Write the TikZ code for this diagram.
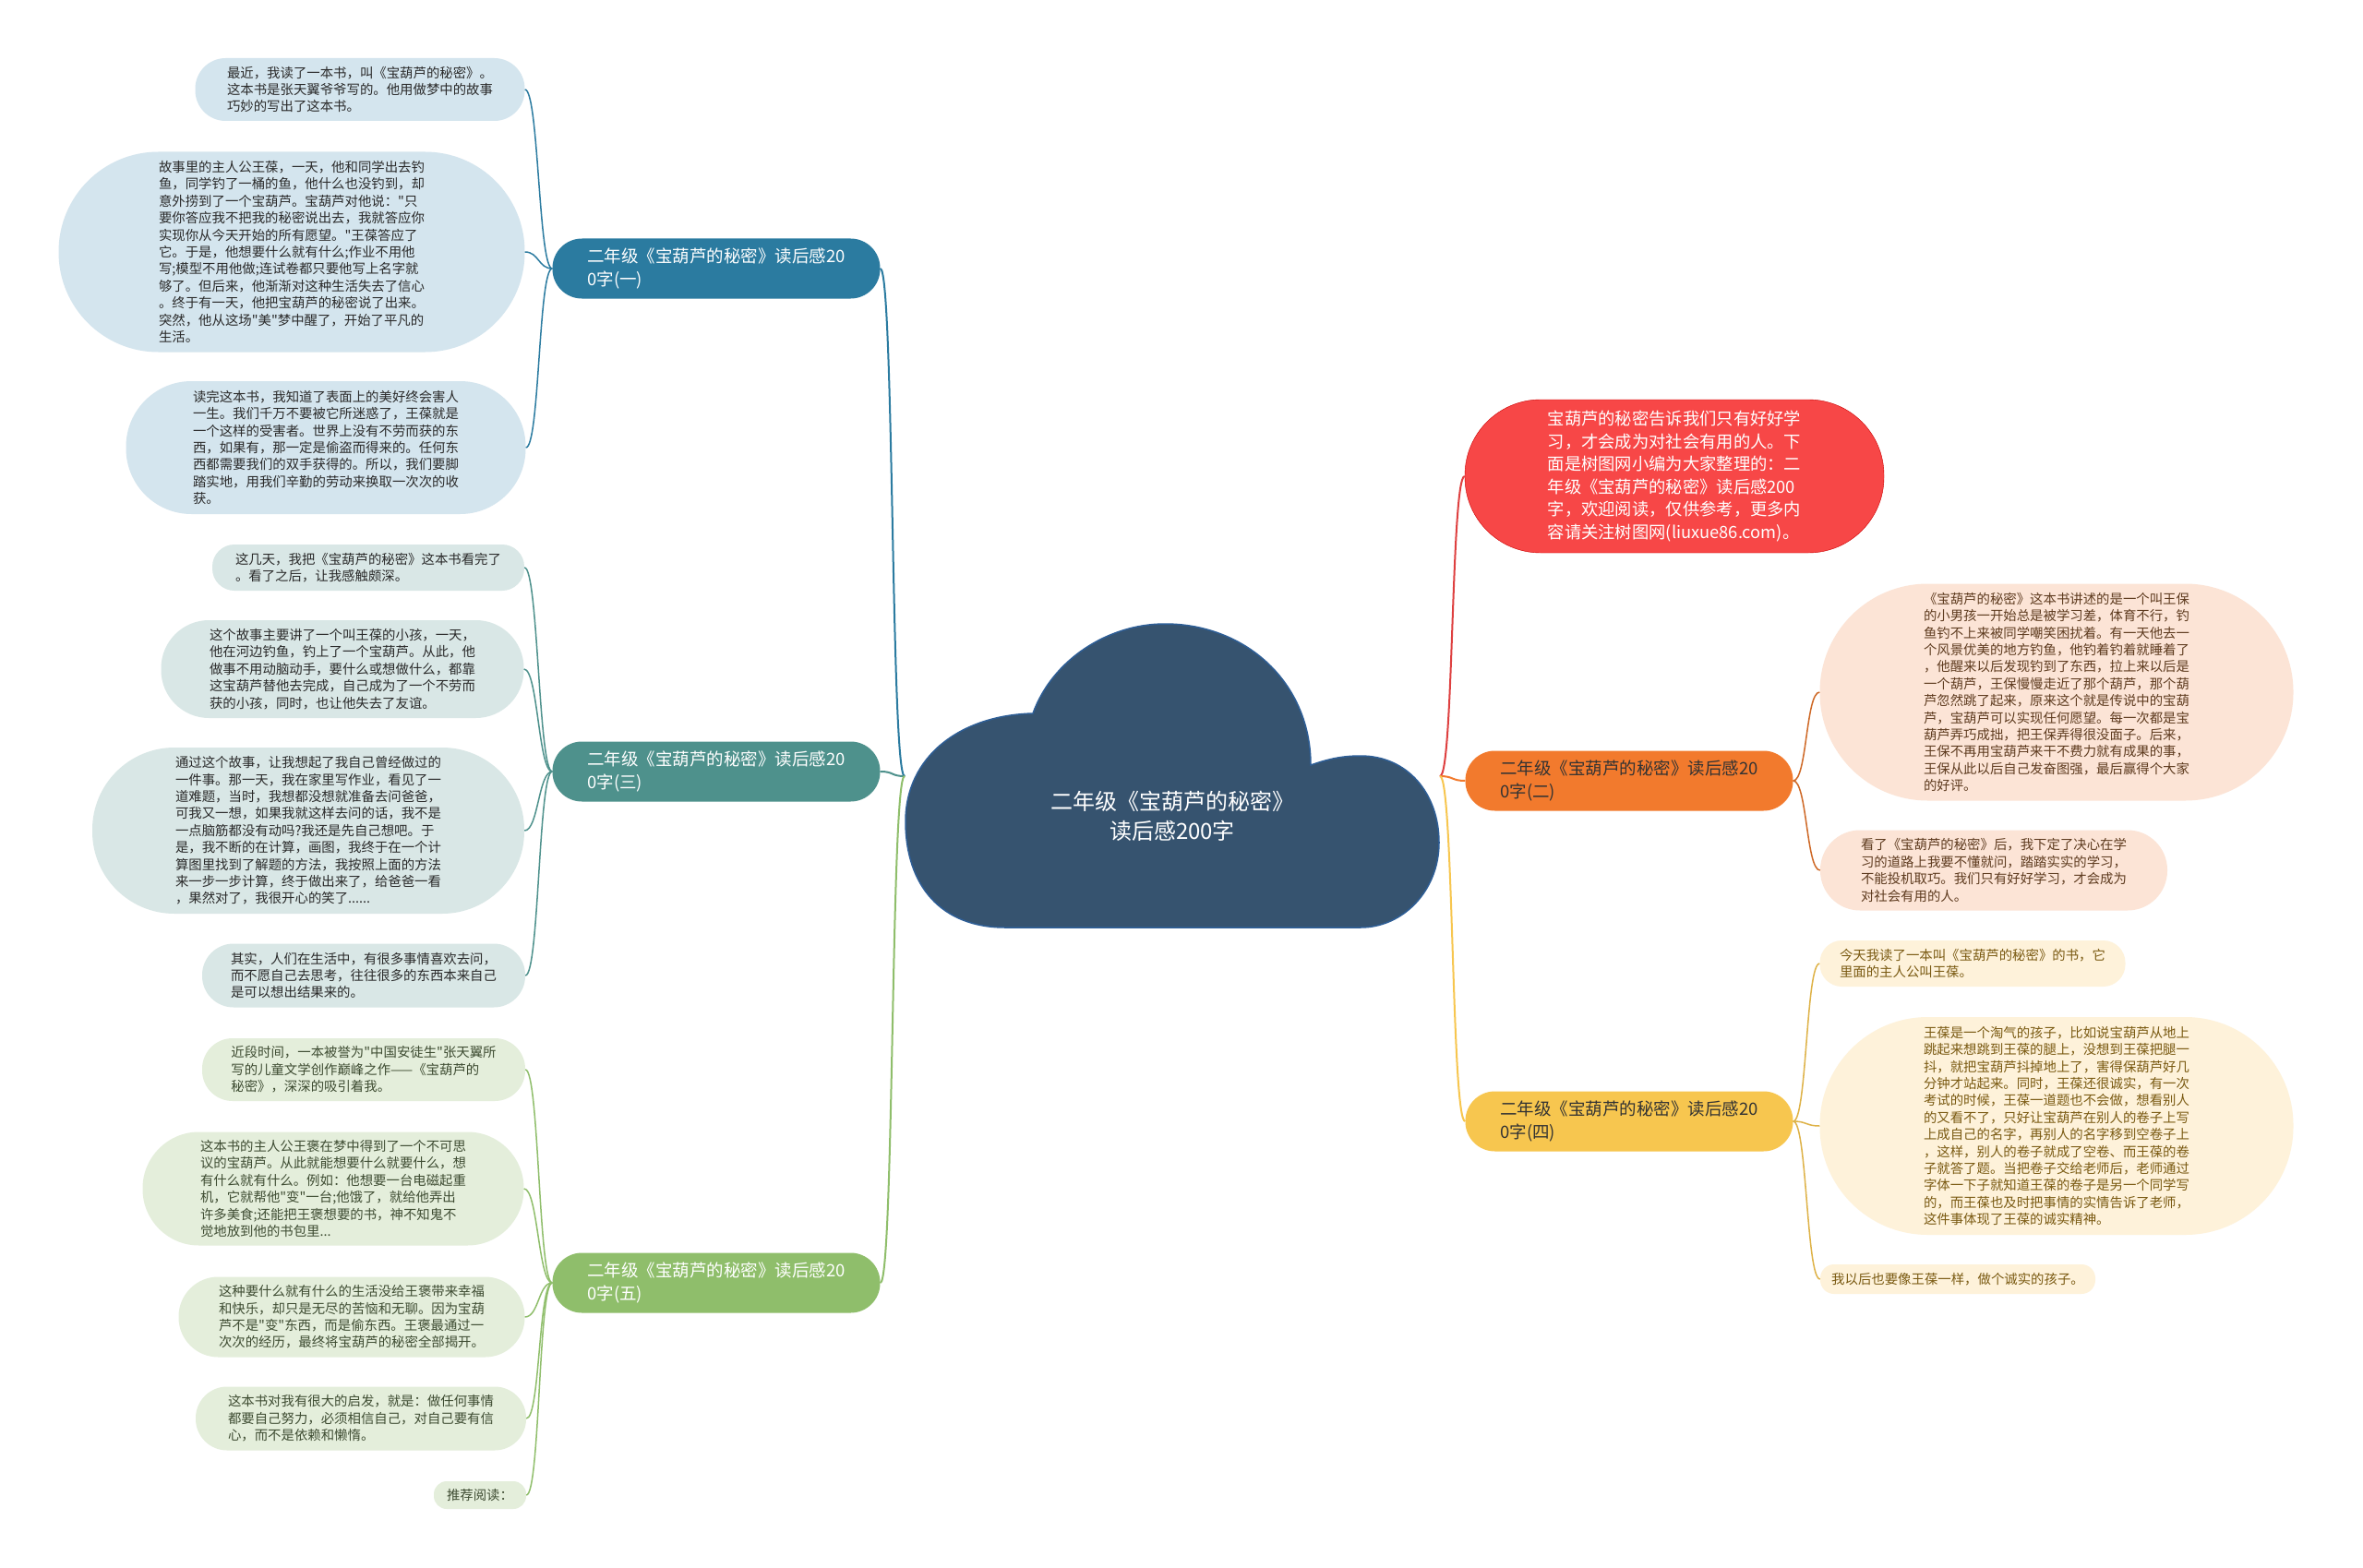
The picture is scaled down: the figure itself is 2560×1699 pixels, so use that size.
\documentclass[tikz,border=0pt]{standalone}
\usepackage{fontspec}
\setmainfont{Noto Sans CJK SC}[Ligatures=TeXOff]
\usetikzlibrary{positioning}

\definecolor{rootblue}{HTML}{36536F}
\definecolor{rootline}{HTML}{2E5E96}
\definecolor{blueA}{HTML}{2B7BA0}
\definecolor{blueL}{HTML}{D4E5EE}
\definecolor{tealA}{HTML}{4E918C}
\definecolor{tealL}{HTML}{D9E7E6}
\definecolor{greenA}{HTML}{8FBE6B}
\definecolor{greenL}{HTML}{E4EEDB}
\definecolor{greenT}{HTML}{3E4C32}
\definecolor{redA}{HTML}{F74747}
\definecolor{orangeA}{HTML}{F27A2D}
\definecolor{orangeL}{HTML}{FCE4D6}
\definecolor{orangeT}{HTML}{5E3B1F}
\definecolor{yellowA}{HTML}{F7C64F}
\definecolor{yellowL}{HTML}{FEF2DA}
\definecolor{yellowT}{HTML}{7A5A12}
\definecolor{leaftext}{HTML}{2A2A2A}

\tikzstyle{pill} = [rectangle, inner sep=0pt, align=left]
\tikzstyle{branch} = [pill, font=\fontsize{18.5pt}{25pt}\selectfont, minimum width=355, minimum height=65, rounded corners=32]
\tikzstyle{leaf} = [pill, font=\fontsize{14.4pt}{18.4pt}\selectfont]
\tikzstyle{link} = [line width=2pt]
\tikzstyle{twig} = [line width=1.5pt]

\begin{document}
\begin{tikzpicture}[x=1pt, y=-1pt]
		\fill [white] (0,0) rectangle (2560,1699);
		\useasboundingbox (0,0) rectangle (2560,1699);

		% Cloud
		\draw [fill=rootblue, draw=rootline, line width=1.5pt]
			(1089,1005) .. controls (1020,1005) and (981,960) .. (981,890)
			.. controls (981,820) and (1040,775) .. (1119,773)
			.. controls (1140,715) and (1200,676) .. (1262,676)
			.. controls (1350,676) and (1420,740) .. (1420,829)
			.. controls (1440,822) and (1455,819) .. (1474,819)
			.. controls (1525,819) and (1559,860) .. (1559,913)
			.. controls (1559,965) and (1520,1005) .. (1474,1005) -- cycle;
		\node (root) [align=center, text=white, font=\fontsize{24pt}{32pt}\selectfont] at (1270,884) {二年级《宝葫芦的秘密》\\读后感200字};
		\coordinate (rootW) at (980,841);
		\coordinate (rootE) at (1560,841);

		% Nodes
		\node (b1) [branch, fill=blueA, text=white] at (776,291) {二年级《宝葫芦的秘密》读后感20\\0字(一)};
		\node (b3) [branch, fill=tealA, text=white] at (776,836) {二年级《宝葫芦的秘密》读后感20\\0字(三)};
		\node (b5) [branch, fill=greenA, text=white] at (776,1390) {二年级《宝葫芦的秘密》读后感20\\0字(五)};
		\node (intro) [pill, fill=redA, draw=red!80!black, text=white, font=\fontsize{18.3pt}{24.6pt}\selectfont, minimum width=454, minimum height=166, rounded corners=82] at (1814,516) {宝葫芦的秘密告诉我们只有好好学\\习，才会成为对社会有用的人。下\\面是树图网小编为大家整理的：二\\年级《宝葫芦的秘密》读后感200\\字，欢迎阅读，仅供参考，更多内\\容请关注树图网(liuxue86.com)。};
		\node (b2) [branch, fill=orangeA, text=black!80] at (1765,846) {二年级《宝葫芦的秘密》读后感20\\0字(二)};
		\node (b4) [branch, fill=yellowA, text=black!80] at (1765,1215) {二年级《宝葫芦的秘密》读后感20\\0字(四)};

		\node (l1a) [leaf, fill=blueL, text=leaftext, minimum width=357, minimum height=68, rounded corners=33] at (390,97) {最近，我读了一本书，叫《宝葫芦的秘密》。\\这本书是张天翼爷爷写的。他用做梦中的故事\\巧妙的写出了这本书。};
		\node (l1b) [leaf, fill=blueL, text=leaftext, minimum width=505, minimum height=217, rounded corners=108] at (316,273) {故事里的主人公王葆，一天，他和同学出去钓\\鱼，同学钓了一桶的鱼，他什么也没钓到，却\\意外捞到了一个宝葫芦。宝葫芦对他说："只\\要你答应我不把我的秘密说出去，我就答应你\\实现你从今天开始的所有愿望。"王葆答应了\\它。于是，他想要什么就有什么;作业不用他\\写;模型不用他做;连试卷都只要他写上名字就\\够了。但后来，他渐渐对这种生活失去了信心\\。终于有一天，他把宝葫芦的秘密说了出来。\\突然，他从这场"美"梦中醒了，开始了平凡的\\生活。};
		\node (l1c) [leaf, fill=blueL, text=leaftext, minimum width=433, minimum height=144, rounded corners=71] at (353,485) {读完这本书，我知道了表面上的美好终会害人\\一生。我们千万不要被它所迷惑了，王葆就是\\一个这样的受害者。世界上没有不劳而获的东\\西，如果有，那一定是偷盗而得来的。任何东\\西都需要我们的双手获得的。所以，我们要脚\\踏实地，用我们辛勤的劳动来换取一次次的收\\获。};

		\node (l3a) [leaf, fill=tealL, text=leaftext, minimum width=338, minimum height=50, rounded corners=24] at (399,615) {这几天，我把《宝葫芦的秘密》这本书看完了\\。看了之后，让我感触颇深。};
		\node (l3b) [leaf, fill=tealL, text=leaftext, minimum width=393, minimum height=106, rounded corners=52] at (371,725) {这个故事主要讲了一个叫王葆的小孩，一天，\\他在河边钓鱼，钓上了一个宝葫芦。从此，他\\做事不用动脑动手，要什么或想做什么，都靠\\这宝葫芦替他去完成，自己成为了一个不劳而\\获的小孩，同时，也让他失去了友谊。};
		\node (l3c) [leaf, fill=tealL, text=leaftext, minimum width=468, minimum height=180, rounded corners=89] at (334,900) {通过这个故事，让我想起了我自己曾经做过的\\一件事。那一天，我在家里写作业，看见了一\\道难题，当时，我想都没想就准备去问爸爸，\\可我又一想，如果我就这样去问的话，我不是\\一点脑筋都没有动吗?我还是先自己想吧。于\\是，我不断的在计算，画图，我终于在一个计\\算图里找到了解题的方法，我按照上面的方法\\来一步一步计算，终于做出来了，给爸爸一看\\，果然对了，我很开心的笑了......};
		\node (l3d) [leaf, fill=tealL, text=leaftext, minimum width=350, minimum height=69, rounded corners=34] at (394,1057) {其实，人们在生活中，有很多事情喜欢去问，\\而不愿自己去思考，往往很多的东西本来自己\\是可以想出结果来的。};

		\node (l5a) [leaf, fill=greenL, text=greenT, minimum width=350, minimum height=68, rounded corners=33] at (394,1159) {近段时间，一本被誉为"中国安徒生"张天翼所\\写的儿童文学创作巅峰之作——《宝葫芦的\\秘密》，深深的吸引着我。};
		\node (l5b) [leaf, fill=greenL, text=greenT, minimum width=413, minimum height=123, rounded corners=61] at (361,1288) {这本书的主人公王褒在梦中得到了一个不可思\\议的宝葫芦。从此就能想要什么就要什么，想\\有什么就有什么。例如：他想要一台电磁起重\\机，它就帮他"变"一台;他饿了，就给他弄出\\许多美食;还能把王褒想要的书，神不知鬼不\\觉地放到他的书包里...};
		\node (l5c) [leaf, fill=greenL, text=greenT, minimum width=375, minimum height=87, rounded corners=43] at (381,1427) {这种要什么就有什么的生活没给王褒带来幸福\\和快乐，却只是无尽的苦恼和无聊。因为宝葫\\芦不是"变"东西，而是偷东西。王褒最通过一\\次次的经历，最终将宝葫芦的秘密全部揭开。};
		\node (l5d) [leaf, fill=greenL, text=greenT, minimum width=358, minimum height=69, rounded corners=34] at (391,1537) {这本书对我有很大的启发，就是：做任何事情\\都要自己努力，必须相信自己，对自己要有信\\心，而不是依赖和懒惰。};
		\node (l5e) [leaf, fill=greenL, text=greenT, minimum width=100, minimum height=30, rounded corners=14] at (520,1620) {推荐阅读：};

		\node (r2a) [leaf, fill=orangeL, text=orangeT, minimum width=513, minimum height=235, rounded corners=117] at (2228,750) {《宝葫芦的秘密》这本书讲述的是一个叫王保\\的小男孩一开始总是被学习差，体育不行，钓\\鱼钓不上来被同学嘲笑困扰着。有一天他去一\\个风景优美的地方钓鱼，他钓着钓着就睡着了\\，他醒来以后发现钓到了东西，拉上来以后是\\一个葫芦，王保慢慢走近了那个葫芦，那个葫\\芦忽然跳了起来，原来这个就是传说中的宝葫\\芦，宝葫芦可以实现任何愿望。每一次都是宝\\葫芦弄巧成拙，把王保弄得很没面子。后来，\\王保不再用宝葫芦来干不费力就有成果的事，\\王保从此以后自己发奋图强，最后赢得个大家\\的好评。};
		\node (r2b) [leaf, fill=orangeL, text=orangeT, minimum width=376, minimum height=87, rounded corners=43] at (2160,943) {看了《宝葫芦的秘密》后，我下定了决心在学\\习的道路上我要不懂就问，踏踏实实的学习，\\不能投机取巧。我们只有好好学习，才会成为\\对社会有用的人。};

		\node (r4a) [leaf, fill=yellowL, text=yellowT, minimum width=331, minimum height=50, rounded corners=24] at (2137,1044) {今天我读了一本叫《宝葫芦的秘密》的书，它\\里面的主人公叫王葆。};
		\node (r4b) [leaf, fill=yellowL, text=yellowT, minimum width=513, minimum height=236, rounded corners=117] at (2228,1220) {王葆是一个淘气的孩子，比如说宝葫芦从地上\\跳起来想跳到王葆的腿上，没想到王葆把腿一\\抖，就把宝葫芦抖掉地上了，害得保葫芦好几\\分钟才站起来。同时，王葆还很诚实，有一次\\考试的时候，王葆一道题也不会做，想看别人\\的又看不了，只好让宝葫芦在别人的卷子上写\\上成自己的名字，再别人的名字移到空卷子上\\，这样，别人的卷子就成了空卷、而王葆的卷\\子就答了题。当把卷子交给老师后，老师通过\\字体一下子就知道王葆的卷子是另一个同学写\\的，而王葆也及时把事情的实情告诉了老师，\\这件事体现了王葆的诚实精神。};
		\node (r4c) [leaf, fill=yellowL, text=yellowT, minimum width=298, minimum height=32, rounded corners=15] at (2121,1386) {我以后也要像王葆一样，做个诚实的孩子。};

		% Arrows
		\draw [link, blueA] (rootW) .. controls +(-15,0) and +(15,0) .. (b1.east);
		\draw [link, tealA] (rootW) .. controls +(-15,0) and +(15,0) .. (b3.east);
		\draw [link, greenA] (rootW) .. controls +(-15,0) and +(15,0) .. (b5.east);
		\draw [link, redA!90!black] (rootE) .. controls +(15,0) and +(-15,0) .. (intro.west);
		\draw [link, orangeA] (rootE) .. controls +(15,0) and +(-15,0) .. (b2.west);
		\draw [link, yellowA] (rootE) .. controls +(15,0) and +(-15,0) .. (b4.west);

		\foreach \leafname in {l1a,l1b,l1c}
			\draw [twig, blueA] (b1.west) .. controls +(-15,0) and +(15,0) .. (\leafname.east);
		\foreach \leafname in {l3a,l3b,l3c,l3d}
			\draw [twig, tealA] (b3.west) .. controls +(-15,0) and +(15,0) .. (\leafname.east);
		\foreach \leafname in {l5a,l5b,l5c,l5d,l5e}
			\draw [twig, greenA] (b5.west) .. controls +(-15,0) and +(15,0) .. (\leafname.east);
		\foreach \leafname in {r2a,r2b}
			\draw [twig, orangeA!85!black] (b2.east) .. controls +(15,0) and +(-15,0) .. (\leafname.west);
		\foreach \leafname in {r4a,r4b,r4c}
			\draw [twig, yellowA!90!black] (b4.east) .. controls +(15,0) and +(-15,0) .. (\leafname.west);
	\end{tikzpicture}
\end{document}
